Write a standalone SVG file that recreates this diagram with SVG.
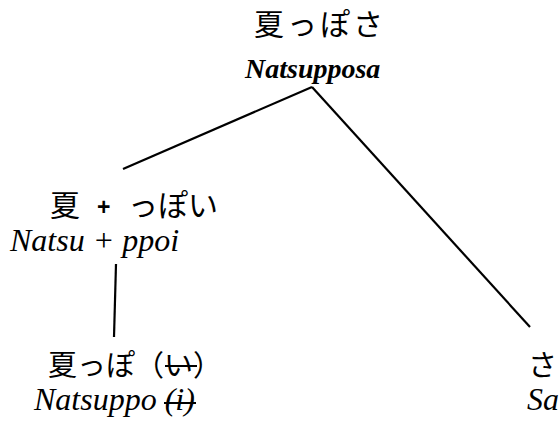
<svg xmlns="http://www.w3.org/2000/svg" width="559" height="423" viewBox="0 0 559 423">
<style>
.jp{font-family:"Noto Sans CJK JP","Liberation Serif",sans-serif;font-size:29px;fill:#000}
.en{font-family:"Liberation Serif",serif;font-style:italic;font-size:32px;fill:#000}
.edge{stroke:#000;stroke-width:2.2;fill:none}
.strike{stroke:#000;stroke-width:2}
</style>
<rect width="559" height="423" fill="#fff"/>
<g id="connectors">
<line class="edge" x1="123" y1="169" x2="312" y2="87"/>
<line class="edge" x1="312" y1="87" x2="530" y2="327"/>
<line class="edge" x1="116" y1="264" x2="114" y2="337"/>
</g>
<g id="root">
<text class="jp" x="254" y="35" letter-spacing="3" style="font-size:30px">夏っぽさ</text>
<text x="245" y="78" style="font-family:'Liberation Serif',serif;font-style:italic;font-weight:bold;font-size:28px">Natsupposa</text>
</g>
<g id="natsu-ppoi">
<text class="jp" x="50" y="216" style="font-size:30px">夏</text>
<text x="97" y="215" style="font-family:'Liberation Sans',sans-serif;font-weight:bold;font-size:23px">+</text>
<text class="jp" x="128" y="216" style="font-size:30px">っぽい</text>
<text class="en" x="10" y="251">Natsu + ppoi</text>
</g>
<g id="natsuppo">
<text class="jp" x="48" y="376">夏っぽ（い）</text>
<line class="strike" x1="165" y1="366" x2="197" y2="366"/>
<text class="en" x="34" y="410">Natsuppo (i)</text>
<line class="strike" x1="164" y1="403" x2="196" y2="403"/>
</g>
<g id="sa">
<text class="jp" x="528" y="376">さ</text>
<text class="en" x="527" y="410">Sa</text>
</g>
</svg>
